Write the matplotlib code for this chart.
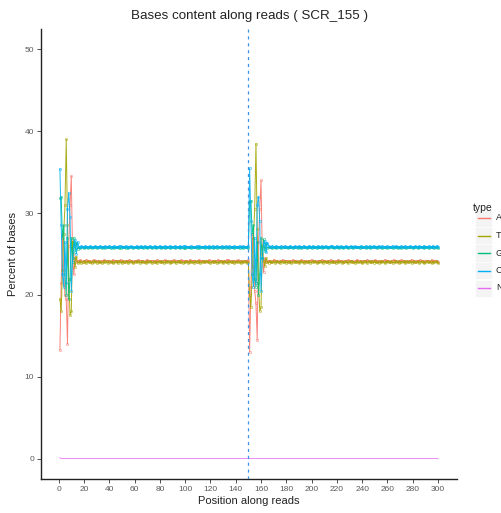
import numpy as np
import matplotlib
matplotlib.use("Agg")
import matplotlib.pyplot as plt
from matplotlib.lines import Line2D
from matplotlib.patches import Rectangle

plt.rcParams["font.family"] = ["Liberation Sans", "DejaVu Sans"]

sample = "SCR_155"
bases = ["A", "T", "G", "C", "N"]
colors = ["#F8766D", "#A3A500", "#00BF7D", "#00B0F6", "#E76BF3"]
split_pos = 150

# ---- read 1 (cycles 1-150), percent of each base ----
a_r1 = [13.3, 21.5, 27.5, 23.0, 20.0, 19.5, 14.0, 26.0, 31.0, 34.5, 25.0, 22.5, 24.6, 24.0,
        24.2,24.1,24.3,24.2,24.0,24.2,24.1,24.3,24.2,24.1,24.2,24.0,24.2,24.3,24.1,24.2,24.1,
        24.2,24.0,24.2,24.1,24.3,24.2,24.1,24.2,24.2,24.0,24.1,24.3,24.2,24.1,24.2,24.1,24.2,
        24.3,24.1,24.2,24.0,24.2,24.2,24.1,24.3,24.1,24.2,24.0,24.2,24.1,24.2,24.3,24.1,24.2,
        24.1,24.2,24.0,24.2,24.3,24.1,24.2,24.1,24.2,24.2,24.0,24.1,24.3,24.2,24.1,24.2,24.0,
        24.2,24.3,24.1,24.2,24.1,24.0,24.2,24.2,24.3,24.1,24.2,24.1,24.2,24.0,24.3,24.2,24.1,
        24.1,24.2,24.2,24.0,24.3,24.1,24.2,24.2,24.1,24.0,24.2,24.3,24.1,24.2,24.2,24.1,24.0,
        24.2,24.1,24.3,24.2,24.1,24.2,24.0,24.2,24.1,24.3,24.2,24.2,24.1,24.0,24.2,24.1,24.3,
        24.3,24.2,24.1,24.2,24.0,24.2,24.1,24.2,24.3,24.1,24.2,24.0,24.1,24.2,24.2,24.1,24.3]
t_r1 = [19.5, 18.0, 23.0, 27.5, 31.0, 39.0, 28.5, 22.0, 17.5, 18.0, 26.5, 24.5, 23.4, 24.6,
        23.9,24.0,24.1,23.9,24.0,24.1,24.0,23.9,24.1,24.0,24.0,23.9,24.1,24.0,24.1,23.9,24.0,
        24.1,24.0,23.9,24.0,24.1,24.0,24.1,23.9,24.0,24.1,24.0,23.9,24.0,24.1,24.0,23.9,24.1,
        24.0,23.9,24.1,24.0,24.0,24.1,23.9,24.0,24.1,24.0,23.9,24.0,24.1,24.0,24.1,23.9,24.0,
        24.1,24.0,24.0,23.9,24.1,24.0,24.1,24.0,23.9,24.0,24.1,24.0,23.9,24.1,24.0,24.0,24.1,
        23.9,24.0,24.1,24.0,24.1,23.9,24.0,24.0,24.1,24.0,23.9,24.1,24.0,24.1,24.0,23.9,24.0,
        24.0,24.1,23.9,24.0,24.1,24.0,24.0,23.9,24.1,24.0,24.1,24.0,23.9,24.0,24.1,24.0,24.1,
        24.1,24.0,24.0,23.9,24.0,24.1,24.0,24.1,23.9,24.0,24.0,24.1,24.0,23.9,24.1,24.0,24.0,
        23.9,24.1,24.0,24.0,24.1,23.9,24.0,24.1,24.0,24.0,23.9,24.1,24.0,24.1,24.0,23.9,24.0]
g_r1 = [31.8, 32.0, 27.0, 28.5, 22.5, 20.0, 27.0, 19.5, 22.0, 27.0, 24.0, 27.0, 25.3, 26.4,
        25.6,25.8,25.7,25.8,25.9,25.7,25.8,25.8,25.7,25.9,25.8,25.7,25.8,25.9,25.8,25.7,25.8,
        25.8,25.9,25.7,25.8,25.8,25.7,25.9,25.8,25.8,25.7,25.8,25.9,25.7,25.8,25.8,25.9,25.7,
        25.7,25.8,25.8,25.9,25.7,25.8,25.7,25.8,25.9,25.8,25.7,25.8,25.8,25.9,25.7,25.8,25.8,
        25.9,25.7,25.8,25.8,25.7,25.9,25.8,25.8,25.7,25.8,25.9,25.7,25.8,25.8,25.9,25.7,25.8,
        25.8,25.7,25.9,25.8,25.8,25.7,25.8,25.9,25.8,25.7,25.8,25.8,25.9,25.7,25.8,25.8,25.7,
        25.7,25.8,25.8,25.9,25.8,25.7,25.8,25.8,25.9,25.7,25.8,25.7,25.8,25.9,25.8,25.8,25.7,
        25.8,25.9,25.7,25.8,25.8,25.7,25.9,25.8,25.7,25.8,25.8,25.9,25.7,25.8,25.8,25.7,25.9,
        25.8,25.7,25.8,25.9,25.8,25.7,25.8,25.8,25.9,25.7,25.8,25.8,25.7,25.9,25.8,25.8,25.7]
c_r1 = [35.4, 28.5, 22.5, 21.0, 26.5, 21.5, 30.5, 32.5, 29.5, 20.5, 24.5, 26.0, 26.7, 25.0,
        26.5,25.9,25.8,26.0,25.9,25.8,26.0,25.9,25.9,25.8,26.0,25.9,25.8,25.9,26.0,25.9,25.8,
        25.9,26.0,25.8,25.9,25.9,26.0,25.8,25.9,26.0,25.9,25.8,25.9,26.0,25.9,25.9,25.8,26.0,
        26.0,25.9,25.9,25.8,26.0,25.9,25.8,25.9,26.0,25.9,25.8,25.9,25.9,26.0,25.8,25.9,26.0,
        25.8,25.9,26.0,25.9,25.9,25.8,26.0,25.9,25.8,25.9,26.0,25.9,25.9,25.8,26.0,25.9,25.9,
        25.9,26.0,25.8,25.9,25.9,26.0,25.9,25.8,25.9,26.0,25.9,25.9,25.8,26.0,25.9,25.9,26.0,
        26.0,25.9,25.9,25.8,25.9,26.0,25.9,25.9,25.8,26.0,25.9,26.0,25.9,25.8,25.9,25.9,26.0,
        25.9,25.8,26.0,25.9,25.9,26.0,25.8,25.9,26.0,25.9,25.9,25.8,26.0,25.9,25.9,26.0,25.8,
        25.9,26.0,25.9,25.8,25.9,26.0,25.9,25.9,25.8,26.0,25.9,25.9,26.0,25.8,25.9,25.9,26.0]

# ---- read 2 (cycles 151-300) ----
a_r2 = [13.0, 21.0, 27.5, 23.5, 20.5, 19.0, 14.5, 26.5, 30.5, 34.0, 25.0, 22.8, 24.5, 24.0,
        24.1,24.2,24.2,24.0,24.1,24.3,24.2,24.1,24.2,24.0,24.2,24.1,24.3,24.2,24.1,24.2,24.2,
        24.0,24.2,24.1,24.3,24.1,24.2,24.2,24.0,24.1,24.2,24.3,24.1,24.2,24.0,24.2,24.1,24.2,
        24.2,24.3,24.1,24.2,24.1,24.0,24.2,24.2,24.1,24.3,24.2,24.1,24.2,24.0,24.2,24.1,24.3,
        24.1,24.2,24.0,24.2,24.1,24.3,24.2,24.2,24.1,24.0,24.2,24.1,24.2,24.3,24.1,24.2,24.2,
        24.0,24.1,24.2,24.3,24.2,24.1,24.2,24.0,24.2,24.2,24.1,24.3,24.1,24.2,24.0,24.2,24.1,
        24.3,24.2,24.1,24.2,24.0,24.2,24.1,24.2,24.3,24.1,24.2,24.2,24.0,24.1,24.2,24.3,24.1,
        24.2,24.0,24.2,24.1,24.3,24.2,24.1,24.2,24.0,24.2,24.1,24.2,24.3,24.1,24.2,24.0,24.2,
        24.1,24.2,24.3,24.1,24.2,24.0,24.2,24.1,24.2,24.2,24.0,24.3,24.1,24.2,24.1,24.2,24.0]
t_r2 = [20.0, 18.5, 22.5, 27.0, 30.5, 38.5, 28.0, 21.5, 18.0, 18.5, 26.0, 24.2, 23.5, 24.5,
        24.0,23.9,24.1,24.0,24.0,24.1,23.9,24.0,24.1,24.0,23.9,24.1,24.0,24.0,24.1,23.9,24.0,
        24.1,24.0,23.9,24.0,24.1,24.0,24.0,24.1,23.9,24.0,24.1,24.0,23.9,24.1,24.0,24.0,24.1,
        23.9,24.0,24.1,24.0,24.1,23.9,24.0,24.0,24.1,24.0,23.9,24.1,24.0,24.0,24.1,23.9,24.0,
        24.0,24.1,24.0,23.9,24.0,24.1,24.0,24.1,23.9,24.0,24.0,24.1,24.0,23.9,24.1,24.0,24.1,
        24.0,23.9,24.0,24.1,24.0,24.0,24.1,23.9,24.0,24.1,24.0,23.9,24.1,24.0,24.0,24.1,23.9,
        24.1,24.0,24.0,23.9,24.1,24.0,24.1,24.0,23.9,24.0,24.1,24.0,24.0,24.1,23.9,24.0,24.1,
        24.0,24.1,23.9,24.0,24.0,24.1,24.0,23.9,24.1,24.0,24.0,24.1,23.9,24.0,24.1,24.0,24.0,
        24.1,23.9,24.0,24.1,24.0,23.9,24.0,24.1,24.0,24.0,24.1,23.9,24.0,24.0,24.1,24.0,23.9]
g_r2 = [31.5, 31.5, 27.5, 28.5, 22.0, 21.0, 26.5, 20.0, 22.5, 27.0, 24.5, 26.8, 25.4, 26.3,
        25.7,25.8,25.8,25.9,25.7,25.8,25.8,25.7,25.9,25.8,25.8,25.7,25.8,25.9,25.8,25.8,25.7,
        25.8,25.9,25.8,25.7,25.8,25.8,25.9,25.7,25.8,25.8,25.7,25.9,25.8,25.8,25.7,25.8,25.9,
        25.8,25.7,25.8,25.8,25.9,25.7,25.8,25.9,25.8,25.7,25.8,25.8,25.9,25.8,25.7,25.8,25.8,
        25.9,25.8,25.7,25.8,25.8,25.9,25.7,25.8,25.8,25.7,25.9,25.8,25.8,25.7,25.8,25.9,25.8,
        25.7,25.8,25.8,25.9,25.8,25.7,25.8,25.9,25.8,25.8,25.7,25.8,25.9,25.7,25.8,25.8,25.9,
        25.8,25.8,25.7,25.9,25.8,25.8,25.7,25.8,25.9,25.8,25.7,25.8,25.8,25.9,25.7,25.8,25.8,
        25.9,25.7,25.8,25.8,25.7,25.9,25.8,25.8,25.7,25.8,25.9,25.8,25.8,25.7,25.8,25.9,25.8,
        25.7,25.8,25.9,25.8,25.8,25.7,25.8,25.8,25.9,25.7,25.8,25.8,25.9,25.7,25.8,25.8,25.7]
c_r2 = [35.5, 29.0, 22.5, 21.0, 27.0, 21.5, 31.0, 32.0, 29.0, 20.5, 24.5, 26.2, 26.6, 25.2,
        26.4,26.0,25.9,25.9,26.0,25.8,25.9,26.0,25.9,25.9,25.8,26.0,25.9,25.9,26.0,25.8,25.9,
        25.9,26.0,25.9,25.8,25.9,26.0,25.9,25.9,26.0,25.8,25.9,25.9,26.0,25.9,25.8,25.9,26.0,
        25.9,25.9,26.0,25.8,25.9,25.9,26.0,25.9,25.8,26.0,25.9,25.9,26.0,25.8,25.9,25.9,26.0,
        26.0,25.9,25.8,25.9,26.0,25.9,25.9,26.0,25.8,25.9,25.9,26.0,25.9,25.8,25.9,26.0,25.9,
        25.9,26.0,25.9,25.8,25.9,25.9,26.0,25.9,25.9,25.8,26.0,25.9,25.9,26.0,25.8,25.9,26.0,
        25.9,25.8,25.9,26.0,25.9,25.9,26.0,25.8,25.9,25.9,26.0,25.9,25.8,25.9,26.0,25.9,25.9,
        26.0,25.9,25.9,25.8,26.0,25.9,25.9,26.0,25.8,25.9,25.9,26.0,25.9,25.9,25.8,26.0,25.9,
        25.9,26.0,25.8,25.9,25.9,26.0,25.9,25.9,25.8,26.0,25.9,25.9,26.0,25.8,25.9,26.0,25.9]

# N calls: only the very first cycle is non-zero
n_r1 = [0.1,  0, 0, 0, 0, 0, 0, 0, 0, 0, 0, 0, 0, 0, 0, 0, 0, 0, 0, 0, 0, 0, 0, 0, 0, 0, 0, 0, 0, 0,
        0, 0, 0, 0, 0, 0, 0, 0, 0, 0, 0, 0, 0, 0, 0, 0, 0, 0, 0, 0, 0, 0, 0, 0, 0, 0, 0, 0, 0, 0,
        0, 0, 0, 0, 0, 0, 0, 0, 0, 0, 0, 0, 0, 0, 0, 0, 0, 0, 0, 0, 0, 0, 0, 0, 0, 0, 0, 0, 0, 0,
        0, 0, 0, 0, 0, 0, 0, 0, 0, 0, 0, 0, 0, 0, 0, 0, 0, 0, 0, 0, 0, 0, 0, 0, 0, 0, 0, 0, 0, 0,
        0, 0, 0, 0, 0, 0, 0, 0, 0, 0, 0, 0, 0, 0, 0, 0, 0, 0, 0, 0, 0, 0, 0, 0, 0, 0, 0, 0, 0, 0]
n_r2 = [0, 0, 0, 0, 0, 0, 0, 0, 0, 0, 0, 0, 0, 0, 0, 0, 0, 0, 0, 0, 0, 0, 0, 0, 0, 0, 0, 0, 0, 0,
        0, 0, 0, 0, 0, 0, 0, 0, 0, 0, 0, 0, 0, 0, 0, 0, 0, 0, 0, 0, 0, 0, 0, 0, 0, 0, 0, 0, 0, 0,
        0, 0, 0, 0, 0, 0, 0, 0, 0, 0, 0, 0, 0, 0, 0, 0, 0, 0, 0, 0, 0, 0, 0, 0, 0, 0, 0, 0, 0, 0,
        0, 0, 0, 0, 0, 0, 0, 0, 0, 0, 0, 0, 0, 0, 0, 0, 0, 0, 0, 0, 0, 0, 0, 0, 0, 0, 0, 0, 0, 0,
        0, 0, 0, 0, 0, 0, 0, 0, 0, 0, 0, 0, 0, 0, 0, 0, 0, 0, 0, 0, 0, 0, 0, 0, 0, 0, 0, 0, 0, 0]

series = {
    "A": a_r1 + a_r2,
    "T": t_r1 + t_r2,
    "G": g_r1 + g_r2,
    "C": c_r1 + c_r2,
    "N": n_r1 + n_r2,
}

xticks = list(range(0, 301, 20))
yticks = [0, 10, 20, 30, 40, 50]

W, H = 501, 513
fig = plt.figure(figsize=(W / 100, H / 100), dpi=100)
ax = fig.add_axes([41 / W, 1 - 479 / H, (457 - 41) / W, (479 - 29) / H])

for base, col in zip(bases, colors):
    vals = np.asarray(series[base], dtype=float)
    pos = np.arange(1, len(vals) + 1)
    if base == "N":
        ax.plot(pos, vals, color=col, lw=0.7, alpha=0.8, zorder=2)
    else:
        ax.plot(pos, vals, color=col, lw=0.7, marker="o", ms=1.6, mfc="none",
                mew=0.4, alpha=0.9, zorder=2)

ax.axvline(split_pos, color="#3A93E6", lw=0.9, ls=(0, (2.5, 3)), zorder=3)

ax.set_xlim(-13.95, 314.95)
ax.set_ylim(-2.5, 52.5)
ax.set_xticks(xticks)
ax.set_yticks(yticks)
ax.tick_params(axis="both", labelsize=6, colors="#333333", labelcolor="#5a5a5a",
               length=3, width=0.6, direction="out", pad=2)
for s in ["top", "right"]:
    ax.spines[s].set_visible(False)
for s in ["left", "bottom"]:
    ax.spines[s].set_linewidth(1.0)
    ax.spines[s].set_color("#222222")

ax.set_xlabel("Position along reads", fontsize=8, color="#222222", labelpad=2)
ax.set_ylabel("Percent of bases", fontsize=8, color="#222222", labelpad=5)
fig.text(250 / W, 1 - 16 / H, f"Bases content along reads ( {sample} )",
         ha="center", va="center", fontsize=9.6, color="#222222")

# legend drawn by hand so it sits at the figure's right edge
fig.text(473 / W, 1 - 208 / H, "type", ha="left", va="center", fontsize=7.5,
         color="#222222")
for i, (base, col) in enumerate(zip(bases, colors)):
    yc = 1 - (218 + 17.5 * i) / H
    fig.add_artist(Rectangle((475 / W, yc - 8.5 / H), 17 / W, 17 / H,
                             transform=fig.transFigure, facecolor="#F4F4F4",
                             edgecolor="white", lw=0.5))
    fig.add_artist(Line2D([478 / W, 490 / W], [yc, yc], transform=fig.transFigure,
                          color=col, lw=1.0))
    fig.text(496 / W, yc, base, ha="left", va="center", fontsize=6.5,
             color="#222222")

fig.savefig("out.png", dpi=100)
